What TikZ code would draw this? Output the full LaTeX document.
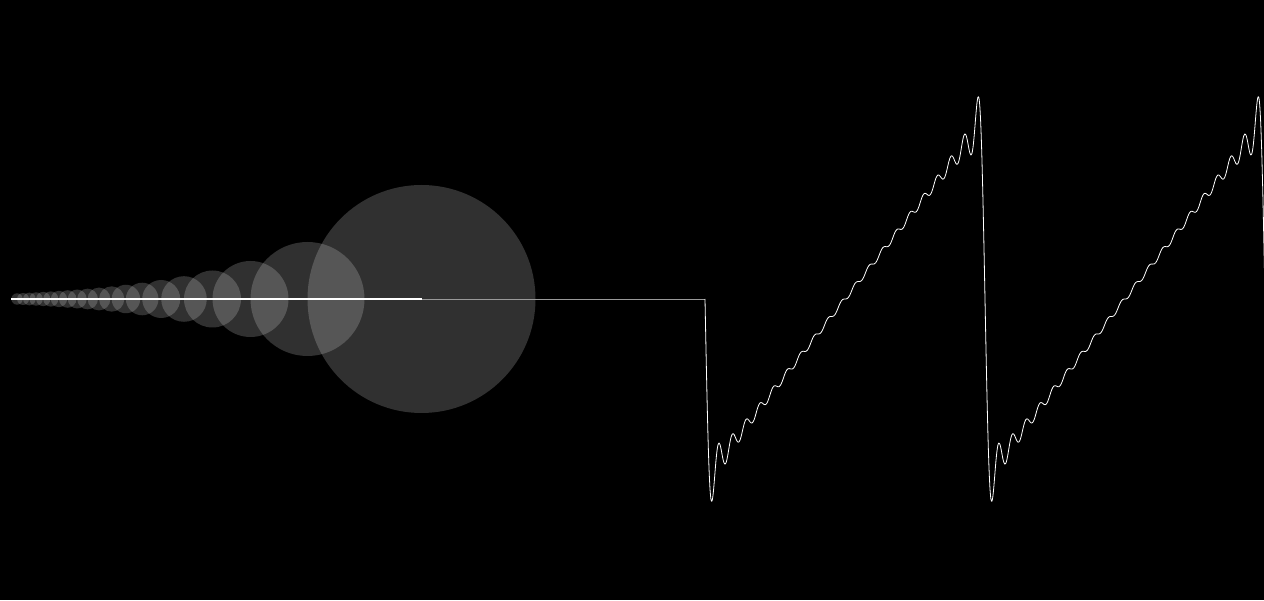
\documentclass[tikz,border=0pt]{standalone}
\usepackage{tikz}
\usetikzlibrary{calc}

\tikzset{
  epicircle/.style={fill=white, fill opacity=0.19},
  radiusline/.style={white, line width=1.6pt},
  traceline/.style={gray!80, line width=0.6pt},
  waveline/.style={white, line width=0.8pt, line join=round}
}

\begin{document}
\begin{tikzpicture}[x=1pt, y=1pt,
    declare function={saw(\t)=sin(\t r)+sin(2*\t r)/2+sin(3*\t r)/3+sin(4*\t r)/4
      +sin(5*\t r)/5+sin(6*\t r)/6+sin(7*\t r)/7+sin(8*\t r)/8+sin(9*\t r)/9
      +sin(10*\t r)/10+sin(11*\t r)/11+sin(12*\t r)/12+sin(13*\t r)/13
      +sin(14*\t r)/14+sin(15*\t r)/15+sin(16*\t r)/16+sin(17*\t r)/17
      +sin(18*\t r)/18+sin(19*\t r)/19+sin(20*\t r)/20;}]
    % Background
    \fill[black] (0,0) rectangle (1264,600);
    \useasboundingbox (0,0) rectangle (1264,600);

    % Epicycles
    \coordinate (hub) at (421.5,301);
    \def\cx{421.5}
    \foreach \n in {1,...,20}{
      \pgfmathsetmacro\r{114/\n}
      \fill[epicircle] (\cx,301) circle (\r pt);
      \pgfmathsetmacro\nx{\cx-\r}
      \xdef\cx{\nx}
    }
    \coordinate (tip) at (\cx,301);

    % Wave start
    \coordinate (wavestart) at (705,301);
    \draw[traceline] (tip) -- (wavestart);

    % Radii
    \draw[radiusline] (tip) -- (hub);

    % Sawtooth (20 terms)
    \draw[waveline] plot[domain=0:4*pi, samples=561, smooth=false]
      ({705+44.563*\x},{301-114*saw(\x)});
\end{tikzpicture}
\end{document}
